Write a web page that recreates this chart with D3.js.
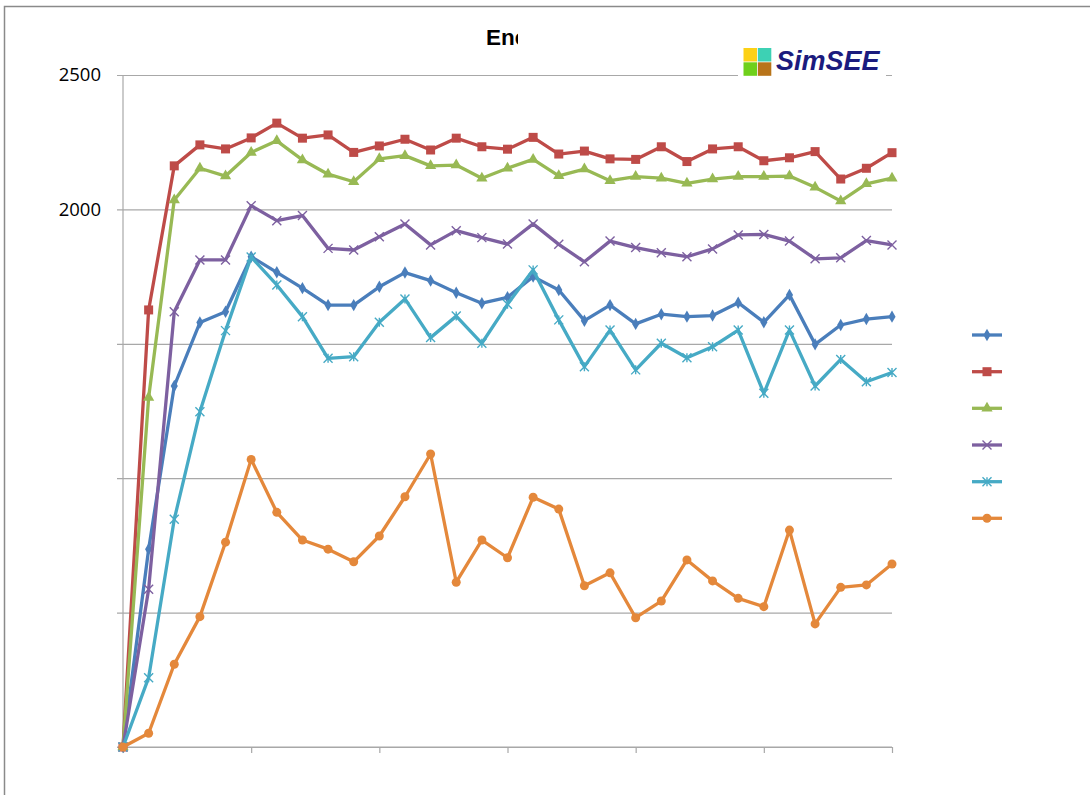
<!DOCTYPE html>
<html>
<head>
<meta charset="utf-8">
<script src="https://cdn.jsdelivr.net/npm/d3@7/dist/d3.min.js"></script>
<style>
  html, body { margin: 0; padding: 0; background: #fff; }
  svg { display: block; }
</style>
</head>
<body>
<svg id="chart" width="1090" height="795"></svg>
<script>
// ---------- data ----------
const categories = [1,2,3,4,5,6,7,8,9,10,11,12,13,14,15,16,17,18,19,20,21,22,23,24,25,26,27,28,29,30,31];
const titleText = "Ene";
const yTickValues = [0, 500, 1000, 1500, 2000, 2500];
const yTickLabels = ["", "", "", "", "2000", "2500"];
const logoText = "SimSEE";

const seriesBlue   = [0,736,1343,1579,1619,1824,1766,1707,1644,1644,1712,1765,1735,1690,1651,1673,1750,1700,1586,1644,1574,1610,1601,1605,1653,1580,1682,1498,1570,1592,1601];
const seriesRed    = [0,1626,2162,2240,2225,2266,2321,2265,2277,2212,2236,2261,2221,2265,2233,2224,2268,2206,2217,2188,2186,2233,2178,2225,2233,2181,2192,2215,2113,2153,2211];
const seriesGreen  = [0,1300,2035,2153,2124,2212,2255,2184,2131,2103,2188,2200,2162,2165,2116,2153,2186,2125,2150,2107,2122,2116,2097,2113,2122,2122,2124,2082,2031,2095,2116];
const seriesPurple = [0,587,1619,1812,1812,2014,1958,1977,1855,1849,1898,1946,1868,1921,1895,1871,1946,1870,1805,1882,1858,1839,1824,1853,1905,1907,1882,1816,1820,1884,1868];
const seriesTeal   = [0,258,847,1247,1549,1823,1719,1601,1446,1452,1580,1667,1523,1603,1502,1647,1775,1589,1415,1551,1403,1502,1448,1489,1551,1316,1551,1343,1442,1359,1393];
const seriesOrange = [0,51,308,485,762,1070,873,770,736,689,785,931,1090,613,770,704,929,885,600,648,481,543,696,618,553,522,807,458,594,603,681];

const seriesList = [
  { values: seriesBlue,   color: "#4A7EBB", marker: "diamond" },
  { values: seriesRed,    color: "#BE4B48", marker: "square" },
  { values: seriesGreen,  color: "#98B954", marker: "triangle" },
  { values: seriesPurple, color: "#7D60A0", marker: "x" },
  { values: seriesTeal,   color: "#46AAC5", marker: "star" },
  { values: seriesOrange, color: "#E4883B", marker: "circle" }
];

// ---------- layout ----------
const svg = d3.select("#chart");
const plot = { left: 123, right: 892, top: 75, bottom: 747 };

const x = d3.scaleLinear().domain([0, categories.length - 1]).range([plot.left, plot.right]);
const y = d3.scaleLinear().domain([0, 2500]).range([plot.bottom, plot.top]);

// outer border
svg.append("rect")
  .attr("x", 4.5).attr("y", 6.5).attr("width", 1100).attr("height", 800)
  .attr("fill", "#fff").attr("stroke", "#8a8a8a").attr("stroke-width", 1.5);

// gridlines + y axis
const yAxis = d3.axisLeft(y)
  .tickValues(yTickValues)
  .tickSize(-(plot.right - plot.left))
  .tickPadding(22)
  .tickFormat((d, i) => yTickLabels[i]);
const gy = svg.append("g").attr("transform", `translate(${plot.left},0)`).call(yAxis);
gy.select(".domain").remove();
gy.selectAll(".tick line").attr("stroke", "#a8a8a8").attr("stroke-width", 1.2).attr("x1", -6);
gy.selectAll(".tick text")
  .attr("fill", "#000")
  .attr("font-family", "'Open Sans', 'Liberation Sans', sans-serif")
  .attr("font-size", 18.5);

// vertical axis line
svg.append("line")
  .attr("x1", plot.left).attr("x2", plot.left)
  .attr("y1", plot.top).attr("y2", plot.bottom)
  .attr("stroke", "#a8a8a8").attr("stroke-width", 1.2);

// x axis
const xAxis = d3.axisBottom(x)
  .tickValues(d3.range(0, categories.length, 5))
  .tickSize(6)
  .tickSizeOuter(0)
  .tickFormat("");
const gx = svg.append("g").attr("transform", `translate(0,${plot.bottom})`).call(xAxis);
gx.select(".domain").attr("stroke", "#a8a8a8").attr("stroke-width", 1.2)
  .attr("d", `M${plot.left - 6},0H${plot.right}`);
gx.selectAll(".tick line").attr("stroke", "#a8a8a8").attr("stroke-width", 1.2);

// marker drawing
function drawMarker(g, type, color, s) {
  if (type === "square") {
    g.append("rect").attr("x", -s/2).attr("y", -s/2).attr("width", s).attr("height", s).attr("fill", color);
  } else if (type === "diamond") {
    g.append("path").attr("d", d3.symbol(d3.symbolDiamond, s*s*0.55)()).attr("fill", color);
  } else if (type === "triangle") {
    g.append("path").attr("d", d3.symbol(d3.symbolTriangle, s*s*0.55)()).attr("fill", color);
  } else if (type === "circle") {
    g.append("circle").attr("r", s/2).attr("fill", color);
  } else if (type === "x") {
    const h = s/2;
    g.append("path").attr("d", `M${-h},${-h}L${h},${h}M${-h},${h}L${h},${-h}`)
      .attr("stroke", color).attr("stroke-width", 1.4).attr("fill", "none");
  } else if (type === "star") {
    const h = s/2;
    g.append("path").attr("d", `M${-h},${-h}L${h},${h}M${-h},${h}L${h},${-h}M0,${-h}L0,${h}`)
      .attr("stroke", color).attr("stroke-width", 1.4).attr("fill", "none");
  }
}
const markerSize = { square: 9, diamond: 9, triangle: 10, circle: 9, x: 9, star: 9 };

const line = d3.line().x((d, i) => x(i)).y(d => y(d));

seriesList.forEach(s => {
  const g = svg.append("g");
  g.append("path").datum(s.values)
    .attr("d", line)
    .attr("fill", "none")
    .attr("stroke", s.color)
    .attr("stroke-width", 3.3)
    .attr("stroke-linejoin", "round");
  s.values.forEach((v, i) => {
    const mg = g.append("g").attr("transform", `translate(${x(i)},${y(v)})`);
    drawMarker(mg, s.marker, s.color, markerSize[s.marker]);
  });
});

// title (clipped)
svg.append("clipPath").attr("id", "titleClip")
  .append("rect").attr("x", 400).attr("y", 10).attr("width", 118).attr("height", 50);
svg.append("text")
  .attr("clip-path", "url(#titleClip)")
  .attr("x", 486).attr("y", 45)
  .attr("font-family", "'Liberation Sans', Arial, sans-serif")
  .attr("font-weight", "bold")
  .attr("font-size", 22.5)
  .attr("fill", "#000")
  .text(titleText);

// logo
const logo = svg.append("g");
logo.append("rect").attr("x", 738).attr("y", 40).attr("width", 148).attr("height", 40).attr("fill", "#fff");
const sq = 13.5, gap = 0.8;
const logoColors = ["#FCD116", "#3DD1B4", "#6FD01B", "#B8741A"];
logoColors.forEach((c, i) => {
  logo.append("rect")
    .attr("x", 743.5 + (i % 2) * (sq + gap))
    .attr("y", 48 + Math.floor(i / 2) * (sq + gap))
    .attr("width", sq).attr("height", sq)
    .attr("fill", c);
});
logo.append("text")
  .attr("x", 776).attr("y", 69.5)
  .attr("font-family", "'Liberation Sans', Arial, sans-serif")
  .attr("font-weight", "bold")
  .attr("font-style", "italic")
  .attr("font-size", 27)
  .attr("fill", "#1B1B7E")
  .text(logoText);

// legend (markers only)
const legendY = [335, 371.7, 408.3, 445, 481.7, 518.3];
seriesList.forEach((s, i) => {
  const g = svg.append("g").attr("transform", `translate(0,${legendY[i]})`);
  g.append("line").attr("x1", 972).attr("x2", 1002).attr("y1", 0).attr("y2", 0)
    .attr("stroke", s.color).attr("stroke-width", 3.3);
  const mg = g.append("g").attr("transform", `translate(987,0)`);
  drawMarker(mg, s.marker, s.color, markerSize[s.marker]);
});
</script>
</body>
</html>
